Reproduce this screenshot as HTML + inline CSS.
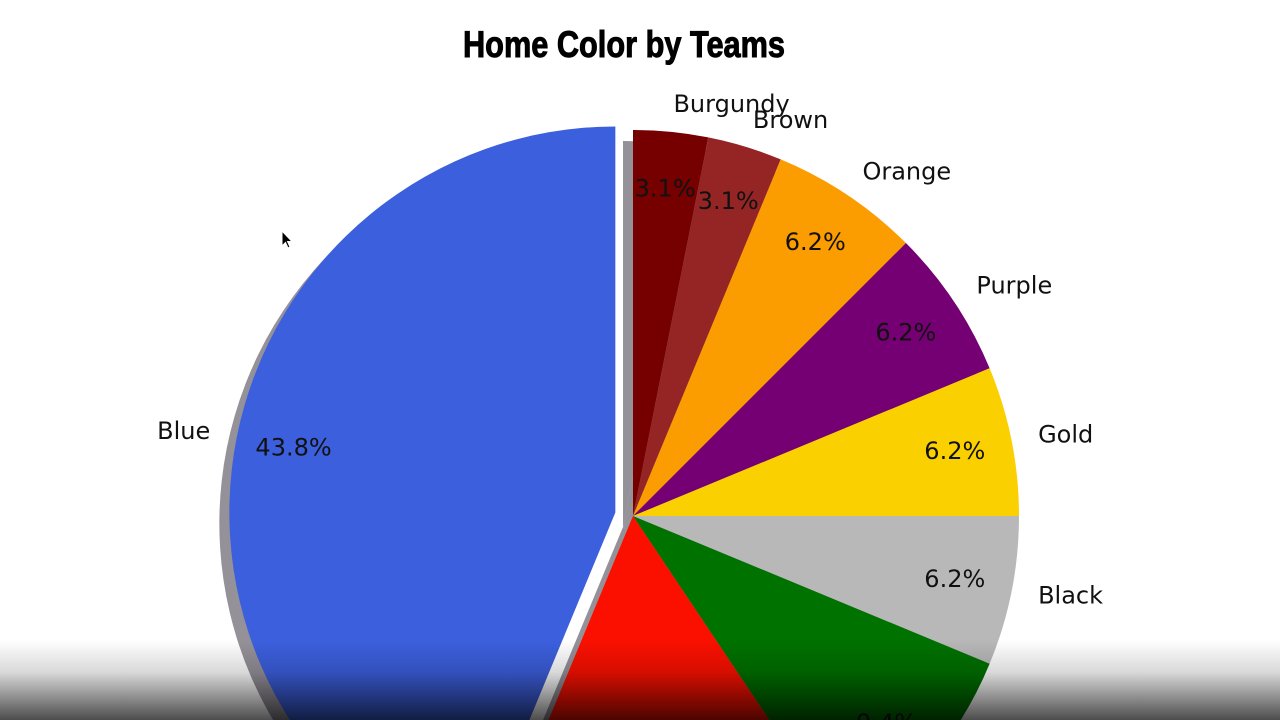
<!DOCTYPE html>
<html><head><meta charset="utf-8"><style>
html,body{margin:0;padding:0;background:#fff;width:1280px;height:720px;overflow:hidden}
svg{display:block}
</style></head><body>
<svg id="chart" width="1280" height="720" viewBox="0 0 1280 720" xmlns="http://www.w3.org/2000/svg">
<defs>
<linearGradient id="fade" x1="0" y1="0" x2="0" y2="1">
<stop offset="0" stop-color="#000" stop-opacity="0"/>
<stop offset="0.4" stop-color="#000" stop-opacity="0.15"/>
<stop offset="1" stop-color="#000" stop-opacity="0.7"/>
</linearGradient>
</defs>
<text x="624" y="57" text-anchor="middle" textLength="322" lengthAdjust="spacingAndGlyphs" font-family="'Liberation Sans Narrow','Liberation Sans',sans-serif" font-weight="bold" font-size="37" fill="#000" stroke="#000" stroke-width="1">Home Color by Teams</text>
<g id="shadow"></g>
<g id="slices"></g>
<g id="labels" font-family="'DejaVu Sans','Liberation Sans',sans-serif" font-size="24" fill="#111"></g>
<rect x="0" y="640" width="1280" height="80" fill="url(#fade)"/>
<path d="M282 231 L282 246 L285.5 242.5 L288 248 L290 247 L287.5 241.5 L292 241.5 Z" fill="#000" stroke="#fff" stroke-width="1"/>
</svg>
<script>
const categories = ["Burgundy","Brown","Orange","Purple","Gold","Black","Green","Red","Blue"];
const counts = [1,1,2,2,2,2,3,5,14];
const colors = ["#760000","#952525","#fb9c00","#740074","#fbd000","#b8b8b8","#007200","#fb1000","#3c5fdd"];
const explode = [0,0,0,0,0,0,0,0,18];

const NS="http://www.w3.org/2000/svg";
const cx=633, cy=516, R=386;
const total=counts.reduce((a,b)=>a+b,0);
const sg=document.getElementById('shadow'), gs=document.getElementById('slices'), gl=document.getElementById('labels');
function pt(a,r,ox,oy){return [ox+r*Math.cos(a), oy-r*Math.sin(a)];}
function fmt(v){
  const s=v*10, f=Math.floor(s), d=s-f;
  let r;
  if(Math.abs(d-0.5)<1e-9) r=(f%2===0)?f:f+1; else r=Math.round(s);
  return (r/10).toFixed(1)+'%';
}
let start=Math.PI/2;
counts.forEach((c,i)=>{
  const sweep=c/total*2*Math.PI;
  const a0=start, a1=start-sweep, mid=start-sweep/2;
  const ox=cx+explode[i]*Math.cos(mid), oy=cy-explode[i]*Math.sin(mid);
  const large=sweep>Math.PI?1:0;
  const mk=(x,y)=>{const p0=pt(a0,R,x,y),p1=pt(a1,R,x,y);
    return `M${x},${y} L${p0[0]},${p0[1]} A${R},${R} 0 ${large} 1 ${p1[0]},${p1[1]} Z`;};
  const sh=document.createElementNS(NS,'path');
  sh.setAttribute('d',mk(ox-10,oy+11));
  sh.setAttribute('fill','rgba(60,55,70,0.55)');
  
  
  sg.appendChild(sh);
  const p=document.createElementNS(NS,'path');
  p.setAttribute('d',mk(ox,oy));
  p.setAttribute('fill',colors[i]);
  
  
  gs.appendChild(p);
  const lp=pt(mid,R*1.07,ox,oy);
  const t=document.createElementNS(NS,'text');
  t.setAttribute('x',lp[0]); t.setAttribute('y',lp[1]+7);
  t.setAttribute('text-anchor',Math.cos(mid)>=0?'start':'end');
  t.textContent=categories[i];
  
  
  gl.appendChild(t);
  const pp=pt(mid,R*0.85,ox,oy);
  const v=document.createElementNS(NS,'text');
  v.setAttribute('x',pp[0]); v.setAttribute('y',pp[1]+7);
  v.setAttribute('text-anchor','middle');
  v.textContent=fmt(c/total*100);
  
  
  gl.appendChild(v);
  start=a1;
});
</script>
</body></html>
